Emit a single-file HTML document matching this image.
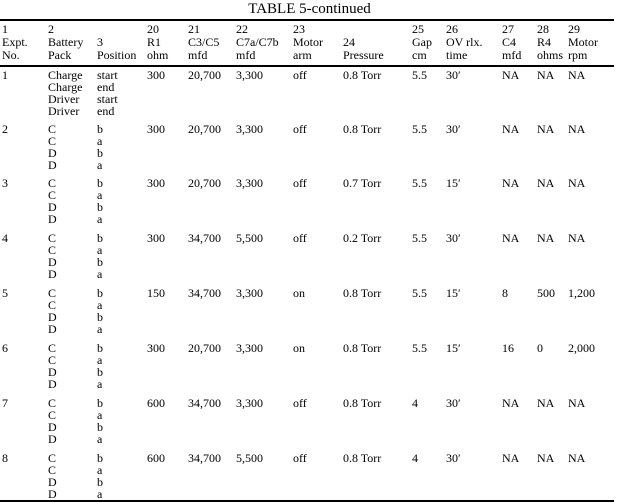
<!DOCTYPE html>
<html><head><meta charset="utf-8"><style>
body{margin:0;width:619px;height:503px;background:#fff;position:relative;overflow:hidden;font-family:"Liberation Serif",serif;font-size:12px;color:#000;}
.t{position:absolute;left:0;top:1px;width:619px;text-align:center;font-size:15px;}
.r{position:absolute;left:0;width:614px;background:#000;}
.g{position:absolute;left:0;width:619px;line-height:12px;}
.g span,.h span{position:absolute;top:0;white-space:nowrap;}
.h{position:absolute;left:0;top:23px;width:619px;line-height:13px;}
</style></head><body>
<div class="t">TABLE 5-continued</div>
<div class="r" style="top:19px;height:2px"></div>
<div class="h">
<span style="left:2px">1<br>Expt.<br>No.</span>
<span style="left:48px">2<br>Battery<br>Pack</span>
<span style="left:97px"><br>3<br>Position</span>
<span style="left:147px">20<br>R1<br>ohm</span>
<span style="left:188px">21<br>C3/C5<br>mfd</span>
<span style="left:236px">22<br>C7a/C7b<br>mfd</span>
<span style="left:293px">23<br>Motor<br>arm</span>
<span style="left:343px"><br>24<br>Pressure</span>
<span style="left:412px">25<br>Gap<br>cm</span>
<span style="left:446px">26<br>OV rlx.<br>time</span>
<span style="left:502px">27<br>C4<br>mfd</span>
<span style="left:537px">28<br>R4<br>ohms</span>
<span style="left:568px">29<br>Motor<br>rpm</span>
</div>
<div class="r" style="top:65px;height:1.5px"></div>

<div class="g" style="top:69px"><span style="left:2px">1</span><span style="left:48px">Charge<br>Charge<br>Driver<br>Driver</span><span style="left:97px">start<br>end<br>start<br>end</span><span style="left:147px">300</span><span style="left:188px">20,700</span><span style="left:236px">3,300</span><span style="left:293px">off</span><span style="left:343px">0.8 Torr</span><span style="left:412px">5.5</span><span style="left:446px">30′</span><span style="left:502px">NA</span><span style="left:537px">NA</span><span style="left:568px">NA</span></div>

<div class="g" style="top:123px"><span style="left:2px">2</span><span style="left:48px">C<br>C<br>D<br>D</span><span style="left:97px">b<br>a<br>b<br>a</span><span style="left:147px">300</span><span style="left:188px">20,700</span><span style="left:236px">3,300</span><span style="left:293px">off</span><span style="left:343px">0.8 Torr</span><span style="left:412px">5.5</span><span style="left:446px">30′</span><span style="left:502px">NA</span><span style="left:537px">NA</span><span style="left:568px">NA</span></div>

<div class="g" style="top:177px"><span style="left:2px">3</span><span style="left:48px">C<br>C<br>D<br>D</span><span style="left:97px">b<br>a<br>b<br>a</span><span style="left:147px">300</span><span style="left:188px">20,700</span><span style="left:236px">3,300</span><span style="left:293px">off</span><span style="left:343px">0.7 Torr</span><span style="left:412px">5.5</span><span style="left:446px">15′</span><span style="left:502px">NA</span><span style="left:537px">NA</span><span style="left:568px">NA</span></div>

<div class="g" style="top:232px"><span style="left:2px">4</span><span style="left:48px">C<br>C<br>D<br>D</span><span style="left:97px">b<br>a<br>b<br>a</span><span style="left:147px">300</span><span style="left:188px">34,700</span><span style="left:236px">5,500</span><span style="left:293px">off</span><span style="left:343px">0.2 Torr</span><span style="left:412px">5.5</span><span style="left:446px">30′</span><span style="left:502px">NA</span><span style="left:537px">NA</span><span style="left:568px">NA</span></div>

<div class="g" style="top:287px"><span style="left:2px">5</span><span style="left:48px">C<br>C<br>D<br>D</span><span style="left:97px">b<br>a<br>b<br>a</span><span style="left:147px">150</span><span style="left:188px">34,700</span><span style="left:236px">3,300</span><span style="left:293px">on</span><span style="left:343px">0.8 Torr</span><span style="left:412px">5.5</span><span style="left:446px">15′</span><span style="left:502px">8</span><span style="left:537px">500</span><span style="left:568px">1,200</span></div>

<div class="g" style="top:342px"><span style="left:2px">6</span><span style="left:48px">C<br>C<br>D<br>D</span><span style="left:97px">b<br>a<br>b<br>a</span><span style="left:147px">300</span><span style="left:188px">20,700</span><span style="left:236px">3,300</span><span style="left:293px">on</span><span style="left:343px">0.8 Torr</span><span style="left:412px">5.5</span><span style="left:446px">15′</span><span style="left:502px">16</span><span style="left:537px">0</span><span style="left:568px">2,000</span></div>

<div class="g" style="top:397px"><span style="left:2px">7</span><span style="left:48px">C<br>C<br>D<br>D</span><span style="left:97px">b<br>a<br>b<br>a</span><span style="left:147px">600</span><span style="left:188px">34,700</span><span style="left:236px">3,300</span><span style="left:293px">off</span><span style="left:343px">0.8 Torr</span><span style="left:412px">4</span><span style="left:446px">30′</span><span style="left:502px">NA</span><span style="left:537px">NA</span><span style="left:568px">NA</span></div>

<div class="g" style="top:452px"><span style="left:2px">8</span><span style="left:48px">C<br>C<br>D<br>D</span><span style="left:97px">b<br>a<br>b<br>a</span><span style="left:147px">600</span><span style="left:188px">34,700</span><span style="left:236px">5,500</span><span style="left:293px">off</span><span style="left:343px">0.8 Torr</span><span style="left:412px">4</span><span style="left:446px">30′</span><span style="left:502px">NA</span><span style="left:537px">NA</span><span style="left:568px">NA</span></div>

<div class="r" style="top:500px;height:2px"></div>
</body></html>
